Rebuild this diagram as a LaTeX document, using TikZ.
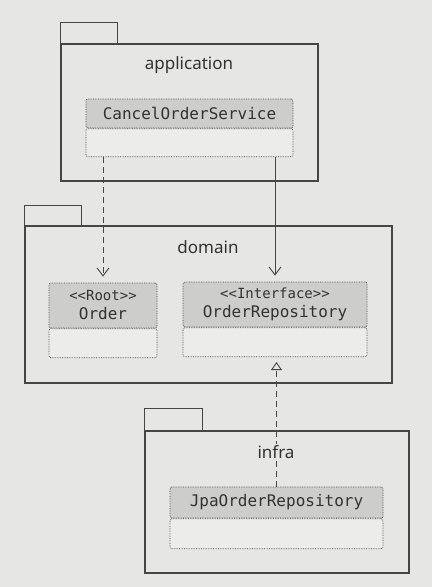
\documentclass[tikz,border=0pt]{standalone}
\usepackage{fontspec}
\setsansfont{Noto Sans}
\setmonofont{DejaVu Sans Mono}
\usetikzlibrary{positioning,arrows.meta}
\definecolor{paper}{RGB}{230,230,228}
\definecolor{hdr}{RGB}{205,205,203}
\definecolor{bdy}{RGB}{236,236,234}
\definecolor{ink}{RGB}{70,70,70}
\definecolor{txt}{RGB}{50,50,50}

\begin{document}
\begin{tikzpicture}[x=1pt,y=-1pt,
    pkg/.style={draw=ink,line width=1.1pt,inner sep=0pt},
    pkgname/.style={font=\sffamily\fontsize{17}{20}\selectfont,text=txt,fill=paper,inner sep=1pt},
    clshead/.style={draw=ink,densely dotted,line width=0.7pt,fill=hdr,rounded corners=2pt,
      inner sep=0pt,align=center,text=txt,font=\ttfamily\fontsize{16}{19}\selectfont},
    clsbody/.style={draw=ink,densely dotted,line width=0.7pt,fill=bdy,rounded corners=2pt,inner sep=0pt},
    dep/.style={draw=ink,line width=0.9pt,-{Straight Barb[length=8pt,width=12pt]},shorten >=6pt},
    real/.style={draw=ink,line width=0.9pt,dash pattern=on 6pt off 4pt,
      -{Triangle[open,length=8pt,width=11pt]},shorten >=5pt}]
  \fill[paper] (0,0) rectangle (432,587);
  \useasboundingbox (0,0) rectangle (432,587);

  % packages
  \node[pkg,minimum width=257,minimum height=137] (app) at (189.5,112.5) {};
  \draw[pkg] (app.north west) rectangle ++(57,-21);
  \node[pkg,minimum width=367,minimum height=157] (dom) at (208.5,304.5) {};
  \draw[pkg] (dom.north west) rectangle ++(57,-20);
  \node[pkg,minimum width=264,minimum height=142] (inf) at (277,502) {};
  \draw[pkg] (inf.north west) rectangle ++(58,-22);

  % classes
  \node[clshead,minimum width=207,minimum height=29] (cos) at (189.5,113.5) {CancelOrderService};
  \node[clsbody,minimum width=207,minimum height=28,below=0pt of cos] (cosb) {};
  \node[clshead,minimum width=108,minimum height=45] (ord) at (103,305.5)
    {{\fontsize{14}{16}\selectfont <{}<Root>{}>}\\Order};
  \node[clsbody,minimum width=108,minimum height=29,below=0pt of ord] (ordb) {};
  \node[clshead,minimum width=184,minimum height=45] (repo) at (275,304.5)
    {{\fontsize{14}{16}\selectfont <{}<Interface>{}>}\\OrderRepository};
  \node[clsbody,minimum width=184,minimum height=29,below=0pt of repo] (repob) {};
  \node[clshead,minimum width=213,minimum height=31] (jpa) at (276.5,502.5) {JpaOrderRepository};
  \node[clsbody,minimum width=213,minimum height=30,below=0pt of jpa] (jpab) {};

  \draw[dep,dash pattern=on 6pt off 4pt] (cosb.south -| ord.north) -- (ord.north);
  \draw[dep] (cosb.south -| repo.north) -- (repo.north);
  \draw[real] (jpa.north) -- (jpa.north |- repob.south);

  \node[pkgname] (appname) at (189,65) {application};
  \node[pkgname] (domname) at (208,247) {domain};
  \node[pkgname] (infname) at (276,452) {infra};
\end{tikzpicture}
\end{document}
